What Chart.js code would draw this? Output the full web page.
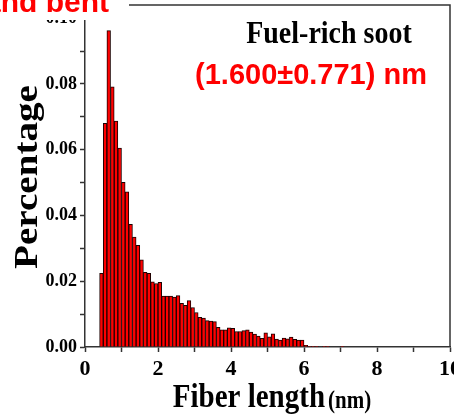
<!DOCTYPE html>
<html>
<head>
<meta charset="utf-8">
<script src="https://cdn.jsdelivr.net/npm/chart.js@4"></script>
<style>
  html, body { margin: 0; padding: 0; background: #fff; }
  #wrap { width: 454px; height: 414px; }
</style>
</head>
<body>
<div id="wrap"><canvas id="myChart"></canvas></div>
<script>
// bin centres (nm), bin width 0.1
const binCenters = [];
for (let i = 0; i < 67; i++) binCenters.push(+(0.45 + i * 0.1).toFixed(2));

const fractions = [
  0.0224, 0.0680, 0.0962, 0.0791, 0.0687, 0.0605, 0.0501, 0.0472, 0.0373, 0.0334,
  0.0309, 0.0265, 0.0227, 0.0224, 0.0198, 0.0193, 0.0197, 0.0155, 0.0155, 0.0155,
  0.0152, 0.0156, 0.0133, 0.0127, 0.0141, 0.0120, 0.0105, 0.0090, 0.0088, 0.0080,
  0.0079, 0.0077, 0.0060, 0.0052, 0.0052, 0.0058, 0.0057, 0.0047, 0.0047, 0.0050,
  0.0052, 0.0045, 0.0039, 0.0033, 0.0026, 0.0043, 0.0031, 0.0040, 0.0024, 0.0021,
  0.0027, 0.0025, 0.0030, 0.0023, 0.0021, 0.0021, 0.0005, 0.0002, 0.0001, 0.0001,
  0.0000, 0.0001, 0.0001, 0.0000, 0.0000, 0.0000, 0.0001
];

const xTicks = [0, 2, 4, 6, 8, 10];
const yTicks = [0.00, 0.02, 0.04, 0.06, 0.08, 0.10];
const titleText = 'Fuel-rich soot';
const statText = '(1.600\u00b10.771) nm';

const ctx = document.getElementById('myChart').getContext('2d');
const serif = '"Liberation Serif", "Times New Roman", serif';
const sans = '"Liberation Sans", Arial, sans-serif';
const axisColor = '#333';

const decor = {
  id: 'decor',
  afterDraw(chart) {
    const c = chart.ctx;
    const a = chart.chartArea;
    c.save();
    // top and right frame
    c.strokeStyle = axisColor;
    c.lineWidth = 1.5;
    c.beginPath();
    c.moveTo(a.left, a.top);
    c.lineTo(a.right, a.top);
    c.lineTo(a.right, a.bottom);
    c.stroke();

    // covering patch from the neighbouring panel
    c.fillStyle = '#fff';
    c.fillRect(0, 0, 129, 20);
    c.fillStyle = '#ff0000';
    c.font = 'bold 30px ' + sans;
    c.textAlign = 'right';
    c.textBaseline = 'alphabetic';
    c.fillText('and bent', 109, 12);

    // title
    c.fillStyle = '#000';
    c.font = 'bold 28px ' + serif;
    c.textAlign = 'center';
    c.save();
    c.translate(329, 43);
    c.scale(1, 1.15);
    c.fillText(titleText, 0, 0);
    c.restore();

    c.fillStyle = '#ff0000';
    c.font = 'bold 29px ' + sans;
    c.save();
    c.translate(311, 84);
    c.scale(1, 1.04);
    c.fillText(statText, 0, 0);
    c.restore();

    // x axis title
    c.fillStyle = '#000';
    c.textAlign = 'left';
    c.font = 'bold 29px ' + serif;
    const w1 = c.measureText('Fiber length').width;
    c.font = 'bold 21px ' + serif;
    const w2 = c.measureText('(nm)').width;
    const x0 = 272 - (w1 + 3 + w2) / 2;
    c.save();
    c.translate(x0, 407);
    c.scale(1, 1.15);
    c.font = 'bold 29px ' + serif;
    c.fillText('Fiber length', 0, 0);
    c.font = 'bold 21px ' + serif;
    c.fillText('(nm)', w1 + 3, 1);
    c.restore();

    // y axis title
    c.save();
    c.translate(37, 177);
    c.rotate(-Math.PI / 2);
    c.scale(1.15, 1);
    c.font = 'bold 34px ' + serif;
    c.textAlign = 'center';
    c.fillText('Percentage', 0, 0);
    c.restore();

    c.restore();
  }
};

const config = {
  type: 'bar',
  data: {
    datasets: [{
      data: binCenters.map((x, i) => ({ x: x, y: fractions[i] })),
      backgroundColor: '#ff0000',
      borderColor: '#1a0000',
      borderWidth: 1,
      borderSkipped: 'bottom',
      barPercentage: 1,
      categoryPercentage: 1,
    }]
  },
  options: {
    responsive: true,
    maintainAspectRatio: false,
    animation: false,
    layout: { padding: { top: 5, right: 4, left: 0, bottom: 0 } },
    plugins: {
      legend: { display: false },
      tooltip: { enabled: false },
      title: { display: false }
    },
    scales: {
      x: {
        type: 'linear',
        min: 0,
        max: 10,
        offset: false,
        grid: { offset: false, drawOnChartArea: false, tickLength: 5, tickColor: axisColor, tickWidth: 1.5 },
        border: { color: axisColor, width: 1.5 },
        ticks: {
          stepSize: 1,
          autoSkip: false,
          maxRotation: 0,
          padding: 4,
          color: '#000',
          font: { family: serif, size: 22, weight: 'bold' },
          callback: v => xTicks.includes(v) ? String(v) : ''
        },
        afterFit: s => { s.height = 67; s.paddingLeft = 0; s.paddingRight = 0; }
      },
      y: {
        min: 0,
        max: 0.104,
        grid: { drawOnChartArea: false, tickLength: 5, tickColor: axisColor, tickWidth: 1.5 },
        border: { color: axisColor, width: 1.5 },
        ticks: {
          stepSize: 0.01,
          includeBounds: false,
          autoSkip: false,
          padding: 3,
          color: '#000',
          font: { family: serif, size: 18, weight: 'bold' },
          callback: v => {
            const r = Math.round(v * 100) / 100;
            return yTicks.some(t => Math.abs(t - r) < 1e-9) ? r.toFixed(2) : '';
          }
        },
        afterFit: s => { s.width = 85; s.paddingTop = 0; s.paddingBottom = 0; }
      }
    }
  },
  plugins: [decor]
};

const myChart = new Chart(ctx, config);
</script>
</body>
</html>
